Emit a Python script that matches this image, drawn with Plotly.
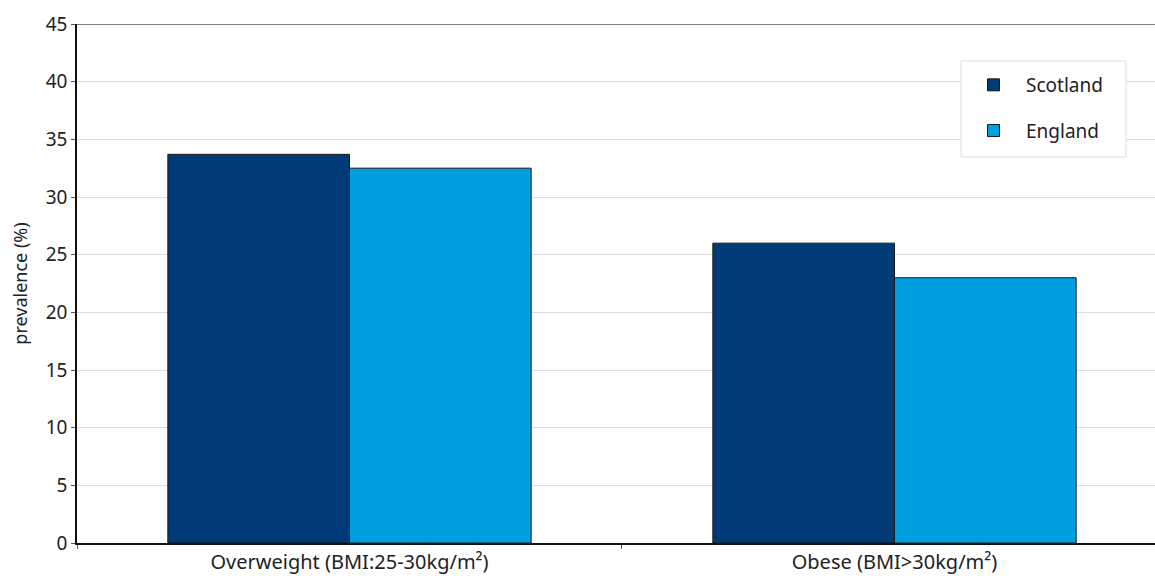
import plotly.graph_objects as go

categories = ["Overweight (BMI:25-30kg/m²)", "Obese (BMI>30kg/m²)"]
scotland = [33.7, 26.0]
england = [32.5, 23.0]
series_names = ["Scotland", "England"]
y_ticks = [0, 5, 10, 15, 20, 25, 30, 35, 40, 45]

FONT = "Noto Sans"

fig = go.Figure()
fig.add_trace(go.Bar(x=categories, y=scotland, name=series_names[0], legendgroup="a",
                     marker=dict(color="#003B78", line=dict(color="#1a1a1a", width=1))))
fig.add_trace(go.Bar(x=categories, y=england, name=series_names[1], legendgroup="b",
                     marker=dict(color="#009FE0", line=dict(color="#1a1a1a", width=1))))

# figure placed at page origin (body margin removed); plot area spans x 77..1155, y 24..543
W, H = 1155, 579
L, T, B = 77, 24, 36
px_w, px_h = W - L, H - B - T
fig.update_layout(
    width=W, height=H,
    margin=dict(l=L, r=0, t=T, b=B, autoexpand=False),
    paper_bgcolor="white", plot_bgcolor="white",
    barmode="group", bargap=1/3, bargroupgap=0,
    font=dict(family=FONT, size=18, color="#222222"),
    showlegend=True,
    legend=dict(x=(961 - L) / px_w, y=(H - B - 66) / px_h, xanchor="left", yanchor="top",
                borderwidth=0, bgcolor="rgba(0,0,0,0)",
                font=dict(size=19, color="#222222"), tracegroupgap=18,
                traceorder="grouped", itemwidth=55),
    xaxis=dict(range=[-0.5, 1.478], showline=True, linecolor="#111111", linewidth=1.5,
               ticks="outside", tickson="boundaries", ticklen=4, tickcolor="#555555",
               showgrid=False, tickfont=dict(size=20), automargin=False),
    yaxis=dict(range=[0, 45], tickvals=y_ticks, showline=True, linecolor="#111111",
               linewidth=1.5, ticks="outside", ticklen=4, tickcolor="#555555",
               gridcolor="#dddddd", gridwidth=1, zeroline=False, automargin=False,
               title=dict(text="prevalence (%)", font=dict(size=18), standoff=13),
               tickfont=dict(size=19)),
)
fig.add_shape(type="line", xref="paper", yref="y", x0=0, x1=1, y0=45, y1=45,
              line=dict(color="#555555", width=1.5))
# legend frame
fig.add_shape(type="rect", xref="paper", yref="paper",
              x0=(961 - L) / px_w, x1=(1126 - L) / px_w,
              y0=(H - B - 157) / px_h, y1=(H - B - 61) / px_h,
              line=dict(color="#dddddd", width=1), fillcolor="white", layer="above")

fig.write_html("out.html", config={"displayModeBar": False},
               post_script="document.body.style.margin='0';")
